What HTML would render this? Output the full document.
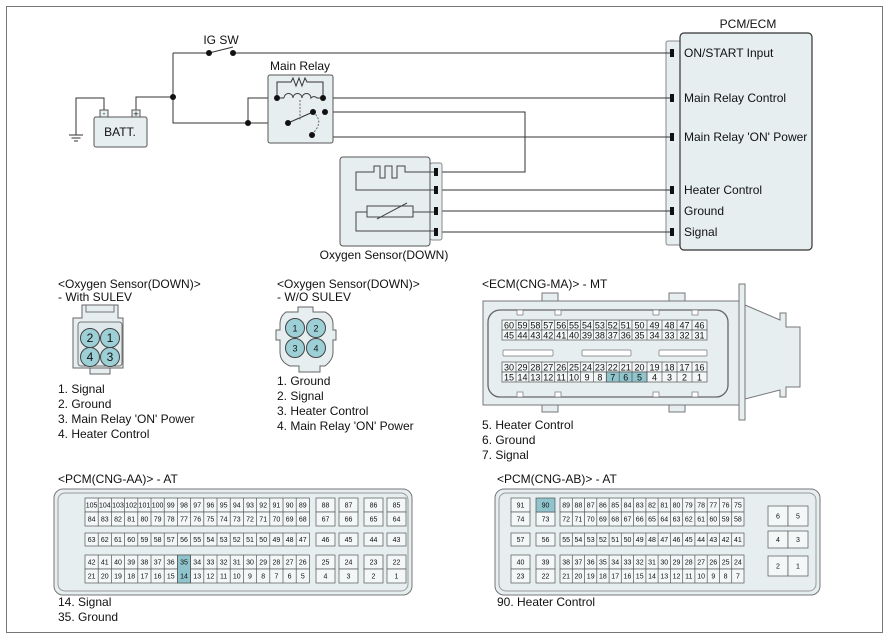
<!DOCTYPE html>
<html><head><meta charset="utf-8"><style>
html,body{margin:0;padding:0;background:#fff}
svg{display:block}
text{font-family:"Liberation Sans",sans-serif;fill:#111}
.l{font-size:12px}
.n{font-size:9px;text-anchor:middle}
.s{font-size:7px;text-anchor:middle}
.w{stroke:#333;stroke-width:1;fill:none}
.c{fill:#f3f7f8;stroke:#555;stroke-width:.7}
.h{fill:#8fc4cd;stroke:#555;stroke-width:.7}
.b{fill:#e6eef0;stroke:#555;stroke-width:1}
</style></head><body>
<svg width="888" height="640" viewBox="0 0 888 640" xmlns="http://www.w3.org/2000/svg">
<rect x="6.5" y="6.5" width="876" height="626" fill="#fff" stroke="#777"/>

<!-- PCM box -->
<text x="748" y="28" class="l" text-anchor="middle">PCM/ECM</text>
<rect x="666" y="41" width="16" height="204" rx="2" fill="#e6eef0" stroke="#888"/>
<rect x="680" y="33" width="132" height="217" rx="4" fill="#e6eef0" stroke="#333" stroke-width="1.2"/>
<g fill="#111">
<rect x="670" y="49" width="4" height="8"/><rect x="670" y="94" width="4" height="8"/><rect x="670" y="133" width="4" height="8"/>
<rect x="670" y="186" width="4" height="8"/><rect x="670" y="207" width="4" height="8"/><rect x="670" y="228" width="4" height="8"/>
</g>
<text x="684" y="57" class="l">ON/START Input</text>
<text x="684" y="102" class="l">Main Relay Control</text>
<text x="684" y="141" class="l">Main Relay 'ON' Power</text>
<text x="684" y="194" class="l">Heater Control</text>
<text x="684" y="215" class="l">Ground</text>
<text x="684" y="236" class="l">Signal</text>

<!-- wires -->
<path class="w" d="M233 53H670 M173 53V123H313 M209 53H173 M209 53L233 47 M136 110V97H173 M104 110V98H76V135 M248 123V98H277 M323 98H670 M325 112H525V172H442 M325 112V137H670 M442 190H670 M442 211H670 M442 232H670"/>
<path stroke="#333" d="M69 135H83 M71.5 138H80.5 M74 141H78"/>
<g fill="#111"><circle cx="209" cy="53" r="3"/><circle cx="233" cy="53" r="3"/><circle cx="173" cy="97" r="3"/><circle cx="248" cy="123" r="3"/></g>
<text x="221" y="44" class="l" text-anchor="middle">IG SW</text>

<!-- battery -->
<rect x="94" y="117" width="53" height="30" rx="2" class="b"/>
<rect x="100" y="110" width="8" height="7" fill="#e6eef0" stroke="#555"/>
<rect x="132" y="110" width="8" height="7" fill="#e6eef0" stroke="#555"/>
<text x="104" y="116" font-size="8" text-anchor="middle">-</text>
<text x="136" y="117" font-size="9" text-anchor="middle">+</text>
<text x="120" y="136" class="l" text-anchor="middle">BATT.</text>

<!-- main relay -->
<text x="300" y="70" class="l" text-anchor="middle">Main Relay</text>
<rect x="268" y="75" width="65" height="68" rx="2" class="b" stroke="#333"/>
<path class="w" d="M277 98V82H291L293 78L296 86L299 78L302 86L305 78L307 82H323V98 M277 98H284 M284 98a4.5 4.5 0 0 1 9 0 a4.5 4.5 0 0 1 9 0 a4.5 4.5 0 0 1 9 0 a4 4 0 0 1 6 0 H323 M288 123L313 112"/>
<path stroke="#666" stroke-dasharray="2,1.5" fill="none" d="M300 100V121 M313 112Q325 122 312 134"/>
<g fill="#111"><circle cx="277" cy="98" r="3"/><circle cx="323" cy="98" r="3"/><circle cx="288" cy="123" r="3"/><circle cx="313" cy="112" r="3"/><circle cx="325" cy="112" r="3"/><circle cx="312" cy="135" r="3"/></g>

<!-- oxygen sensor -->
<rect x="430" y="163" width="12" height="77" rx="2" fill="#e6eef0" stroke="#888"/>
<rect x="340" y="157" width="90" height="89" rx="3" class="b" stroke="#333"/>
<g fill="#111"><rect x="434" y="168" width="4" height="8"/><rect x="434" y="186" width="4" height="8"/><rect x="434" y="207" width="4" height="8"/><rect x="434" y="228" width="4" height="8"/></g>
<path stroke="#444" fill="none" d="M434 172H405V166H397V178H392V166H385V178H380V166H374V172H356V190H434 M434 212H413 M367 212H356V231H434"/>
<rect x="367" y="206" width="46" height="11" fill="none" stroke="#444"/>
<path stroke="#444" d="M377 219L407 203"/>
<text x="384" y="259" class="l" text-anchor="middle">Oxygen Sensor(DOWN)</text>

<!-- with SULEV -->
<text x="58" y="288" class="l">&lt;Oxygen Sensor(DOWN)&gt;</text>
<text x="58" y="301" class="l">- With SULEV</text>
<rect x="90" y="367" width="20" height="7" fill="#e6eef0" stroke="#666"/>
<path d="M82 305H118V318H123V368H73V318H82Z" fill="#e6eef0" stroke="#666"/>
<rect x="78" y="322" width="44" height="44" rx="3" fill="#dfe8ea" stroke="#777"/>
<path d="M86 305V312H114V305" fill="none" stroke="#777"/>
<g fill="#9dcfd6" stroke="#444"><circle cx="90" cy="338" r="9.5"/><circle cx="110" cy="338" r="9.5"/><circle cx="90" cy="357" r="9.5"/><circle cx="110" cy="357" r="9.5"/></g>
<text x="90" y="342" class="l" text-anchor="middle">2</text><text x="110" y="342" class="l" text-anchor="middle">1</text><text x="90" y="361" class="l" text-anchor="middle">4</text><text x="110" y="361" class="l" text-anchor="middle">3</text>
<text x="58" y="393" class="l">1. Signal</text>
<text x="58" y="408" class="l">2. Ground</text>
<text x="58" y="423" class="l">3. Main Relay 'ON' Power</text>
<text x="58" y="438" class="l">4. Heater Control</text>

<!-- W/O SULEV -->
<text x="277" y="288" class="l">&lt;Oxygen Sensor(DOWN)&gt;</text>
<text x="277" y="301" class="l">- W/O SULEV</text>
<path d="M298 307V312H286Q280 316 280 324V330H276V340H280V352Q280 362 290 366H299V372H320V366H325Q333 360 333 352V340H336V330H333V324Q333 316 325 312H313V307Z" fill="#e6eef0" stroke="#666"/>
<g fill="#9dcfd6" stroke="#444"><circle cx="295" cy="328" r="9.5"/><circle cx="316" cy="328" r="9.5"/><circle cx="295" cy="348" r="9.5"/><circle cx="316" cy="348" r="9.5"/></g>
<text x="295" y="331.5" class="n">1</text><text x="316" y="331.5" class="n">2</text><text x="295" y="351.5" class="n">3</text><text x="316" y="351.5" class="n">4</text>
<text x="277" y="385" class="l">1. Ground</text>
<text x="277" y="400" class="l">2. Signal</text>
<text x="277" y="415" class="l">3. Heater Control</text>
<text x="277" y="430" class="l">4. Main Relay 'ON' Power</text>

<!-- ECM CNG-MA -->
<text x="482" y="288" class="l">&lt;ECM(CNG-MA)&gt; - MT</text>
<path d="M745 305L780 320V313H786V327H800V387H786V397H780V390L745 399Z" fill="#e6eef0" stroke="#777"/>
<rect x="739" y="284" width="6" height="136" fill="#e6eef0" stroke="#777"/>
<rect x="542" y="293" width="16" height="12" fill="#e6eef0" stroke="#777"/><rect x="669" y="293" width="16" height="12" fill="#e6eef0" stroke="#777"/>
<rect x="542" y="400" width="16" height="12" fill="#e6eef0" stroke="#777"/><rect x="669" y="400" width="16" height="12" fill="#e6eef0" stroke="#777"/>
<rect x="483" y="301" width="256" height="104" fill="#e6eef0" stroke="#777"/>
<rect x="488" y="310" width="240" height="87" rx="12" fill="#e6eef0" stroke="#666" stroke-width="1.3"/>
<g fill="#fff" stroke="#777" stroke-width=".7"><rect x="517" y="310" width="6" height="5"/><rect x="555" y="310" width="6" height="5"/><rect x="653" y="310" width="6" height="5"/><rect x="692" y="310" width="6" height="5"/>
<rect x="517" y="392" width="6" height="5"/><rect x="555" y="392" width="6" height="5"/><rect x="653" y="392" width="6" height="5"/><rect x="692" y="392" width="6" height="5"/>
<rect x="503" y="350" width="50" height="6" rx="1"/><rect x="582" y="350" width="49" height="6" rx="1"/><rect x="659" y="350" width="48" height="6" rx="1"/></g>
<g class="c">
<rect x="502" y="320" width="205" height="10"/><rect x="502" y="330" width="205" height="10"/><rect x="502" y="362" width="205" height="10"/><rect x="502" y="372" width="205" height="10"/>
</g>
<rect x="606.3" y="372" width="40.7" height="10" class="h"/>
<path stroke="#555" stroke-width=".7" d="M516 320V340M528.9 320V340M541.8 320V340M554.7 320V340M567.6 320V340M580.5 320V340M593.4 320V340M606.3 320V340M619.2 320V340M632 320V340M647 320V340M662 320V340M677 320V340M692 320V340 M516 362V382M528.9 362V382M541.8 362V382M554.7 362V382M567.6 362V382M580.5 362V382M593.4 362V382M606.3 362V382M619.2 362V382M632 362V382M647 362V382M662 362V382M677 362V382M692 362V382"/>
<g class="n">
<text x="509" y="328.5">60</text><text x="522.5" y="328.5">59</text><text x="535.4" y="328.5">58</text><text x="548.3" y="328.5">57</text><text x="561.2" y="328.5">56</text><text x="574" y="328.5">55</text><text x="587" y="328.5">54</text><text x="599.9" y="328.5">53</text><text x="612.8" y="328.5">52</text><text x="625.7" y="328.5">51</text><text x="639.5" y="328.5">50</text><text x="654.5" y="328.5">49</text><text x="669.5" y="328.5">48</text><text x="684.5" y="328.5">47</text><text x="699.5" y="328.5">46</text>
<text x="509" y="338.5">45</text><text x="522.5" y="338.5">44</text><text x="535.4" y="338.5">43</text><text x="548.3" y="338.5">42</text><text x="561.2" y="338.5">41</text><text x="574" y="338.5">40</text><text x="587" y="338.5">39</text><text x="599.9" y="338.5">38</text><text x="612.8" y="338.5">37</text><text x="625.7" y="338.5">36</text><text x="639.5" y="338.5">35</text><text x="654.5" y="338.5">34</text><text x="669.5" y="338.5">33</text><text x="684.5" y="338.5">32</text><text x="699.5" y="338.5">31</text>
<text x="509" y="370.5">30</text><text x="522.5" y="370.5">29</text><text x="535.4" y="370.5">28</text><text x="548.3" y="370.5">27</text><text x="561.2" y="370.5">26</text><text x="574" y="370.5">25</text><text x="587" y="370.5">24</text><text x="599.9" y="370.5">23</text><text x="612.8" y="370.5">22</text><text x="625.7" y="370.5">21</text><text x="639.5" y="370.5">20</text><text x="654.5" y="370.5">19</text><text x="669.5" y="370.5">18</text><text x="684.5" y="370.5">17</text><text x="699.5" y="370.5">16</text>
<text x="509" y="380.5">15</text><text x="522.5" y="380.5">14</text><text x="535.4" y="380.5">13</text><text x="548.3" y="380.5">12</text><text x="561.2" y="380.5">11</text><text x="574" y="380.5">10</text><text x="587" y="380.5">9</text><text x="599.9" y="380.5">8</text><text x="612.8" y="380.5">7</text><text x="625.7" y="380.5">6</text><text x="639.5" y="380.5">5</text><text x="654.5" y="380.5">4</text><text x="669.5" y="380.5">3</text><text x="684.5" y="380.5">2</text><text x="699.5" y="380.5">1</text>
</g>
<text x="482" y="429" class="l">5. Heater Control</text>
<text x="482" y="444" class="l">6. Ground</text>
<text x="482" y="459" class="l">7. Signal</text>

<!-- PCM CNG-AA -->
<text x="58" y="483" class="l">&lt;PCM(CNG-AA)&gt; - AT</text>
<rect x="54" y="489" width="358" height="106" rx="9" fill="#e6eef0" stroke="#777"/>
<rect x="58" y="493" width="350" height="98" rx="7" fill="none" stroke="#999"/>
<g class="c">
<rect x="85" y="498" width="224.4" height="14"/><rect x="85" y="512" width="224.4" height="14"/>
<rect x="85" y="533" width="224.4" height="13"/>
<rect x="85" y="555" width="224.4" height="14"/><rect x="85" y="569" width="224.4" height="14"/>
<rect x="316" y="498" width="19" height="14"/><rect x="339" y="498" width="19" height="14"/><rect x="364" y="498" width="19" height="14"/><rect x="387" y="498" width="19" height="14"/>
<rect x="316" y="512" width="19" height="14"/><rect x="339" y="512" width="19" height="14"/><rect x="364" y="512" width="19" height="14"/><rect x="387" y="512" width="19" height="14"/>
<rect x="316" y="533" width="19" height="13"/><rect x="339" y="533" width="19" height="13"/><rect x="364" y="533" width="19" height="13"/><rect x="387" y="533" width="19" height="13"/>
<rect x="316" y="555" width="19" height="14"/><rect x="339" y="555" width="19" height="14"/><rect x="364" y="555" width="19" height="14"/><rect x="387" y="555" width="19" height="14"/>
<rect x="316" y="569" width="19" height="14"/><rect x="339" y="569" width="19" height="14"/><rect x="364" y="569" width="19" height="14"/><rect x="387" y="569" width="19" height="14"/>
</g>
<rect x="177.4" y="555" width="13.2" height="28" class="h"/>
<path stroke="#555" stroke-width=".7" d="M98.2 498V526M111.4 498V526M124.6 498V526M137.8 498V526M151 498V526M164.2 498V526M177.4 498V526M190.6 498V526M203.8 498V526M217 498V526M230.2 498V526M243.4 498V526M256.6 498V526M269.8 498V526M283 498V526M296.2 498V526
M98.2 533V546M111.4 533V546M124.6 533V546M137.8 533V546M151 533V546M164.2 533V546M177.4 533V546M190.6 533V546M203.8 533V546M217 533V546M230.2 533V546M243.4 533V546M256.6 533V546M269.8 533V546M283 533V546M296.2 533V546
M98.2 555V583M111.4 555V583M124.6 555V583M137.8 555V583M151 555V583M164.2 555V583M177.4 555V583M190.6 555V583M203.8 555V583M217 555V583M230.2 555V583M243.4 555V583M256.6 555V583M269.8 555V583M283 555V583M296.2 555V583"/>
<g class="s">
<text x="91.6" y="507.5">105</text><text x="104.8" y="507.5">104</text><text x="118" y="507.5">103</text><text x="131.2" y="507.5">102</text><text x="144.4" y="507.5">101</text><text x="157.6" y="507.5">100</text><text x="170.8" y="507.5">99</text><text x="184" y="507.5">98</text><text x="197.2" y="507.5">97</text><text x="210.4" y="507.5">96</text><text x="223.6" y="507.5">95</text><text x="236.8" y="507.5">94</text><text x="250" y="507.5">93</text><text x="263.2" y="507.5">92</text><text x="276.4" y="507.5">91</text><text x="289.6" y="507.5">90</text><text x="302.8" y="507.5">89</text>
<text x="325.5" y="507.5">88</text><text x="348.5" y="507.5">87</text><text x="373.5" y="507.5">86</text><text x="396.5" y="507.5">85</text>
<text x="91.6" y="521.5">84</text><text x="104.8" y="521.5">83</text><text x="118" y="521.5">82</text><text x="131.2" y="521.5">81</text><text x="144.4" y="521.5">80</text><text x="157.6" y="521.5">79</text><text x="170.8" y="521.5">78</text><text x="184" y="521.5">77</text><text x="197.2" y="521.5">76</text><text x="210.4" y="521.5">75</text><text x="223.6" y="521.5">74</text><text x="236.8" y="521.5">73</text><text x="250" y="521.5">72</text><text x="263.2" y="521.5">71</text><text x="276.4" y="521.5">70</text><text x="289.6" y="521.5">69</text><text x="302.8" y="521.5">68</text>
<text x="325.5" y="521.5">67</text><text x="348.5" y="521.5">66</text><text x="373.5" y="521.5">65</text><text x="396.5" y="521.5">64</text>
<text x="91.6" y="542">63</text><text x="104.8" y="542">62</text><text x="118" y="542">61</text><text x="131.2" y="542">60</text><text x="144.4" y="542">59</text><text x="157.6" y="542">58</text><text x="170.8" y="542">57</text><text x="184" y="542">56</text><text x="197.2" y="542">55</text><text x="210.4" y="542">54</text><text x="223.6" y="542">53</text><text x="236.8" y="542">52</text><text x="250" y="542">51</text><text x="263.2" y="542">50</text><text x="276.4" y="542">49</text><text x="289.6" y="542">48</text><text x="302.8" y="542">47</text>
<text x="325.5" y="542">46</text><text x="348.5" y="542">45</text><text x="373.5" y="542">44</text><text x="396.5" y="542">43</text>
<text x="91.6" y="564.5">42</text><text x="104.8" y="564.5">41</text><text x="118" y="564.5">40</text><text x="131.2" y="564.5">39</text><text x="144.4" y="564.5">38</text><text x="157.6" y="564.5">37</text><text x="170.8" y="564.5">36</text><text x="184" y="564.5">35</text><text x="197.2" y="564.5">34</text><text x="210.4" y="564.5">33</text><text x="223.6" y="564.5">32</text><text x="236.8" y="564.5">31</text><text x="250" y="564.5">30</text><text x="263.2" y="564.5">29</text><text x="276.4" y="564.5">28</text><text x="289.6" y="564.5">27</text><text x="302.8" y="564.5">26</text>
<text x="325.5" y="564.5">25</text><text x="348.5" y="564.5">24</text><text x="373.5" y="564.5">23</text><text x="396.5" y="564.5">22</text>
<text x="91.6" y="578.5">21</text><text x="104.8" y="578.5">20</text><text x="118" y="578.5">19</text><text x="131.2" y="578.5">18</text><text x="144.4" y="578.5">17</text><text x="157.6" y="578.5">16</text><text x="170.8" y="578.5">15</text><text x="184" y="578.5">14</text><text x="197.2" y="578.5">13</text><text x="210.4" y="578.5">12</text><text x="223.6" y="578.5">11</text><text x="236.8" y="578.5">10</text><text x="250" y="578.5">9</text><text x="263.2" y="578.5">8</text><text x="276.4" y="578.5">7</text><text x="289.6" y="578.5">6</text><text x="302.8" y="578.5">5</text>
<text x="325.5" y="578.5">4</text><text x="348.5" y="578.5">3</text><text x="373.5" y="578.5">2</text><text x="396.5" y="578.5">1</text>
</g>
<text x="58" y="606" class="l">14. Signal</text>
<text x="58" y="621" class="l">35. Ground</text>

<!-- PCM CNG-AB -->
<text x="497" y="483" class="l">&lt;PCM(CNG-AB)&gt; - AT</text>
<rect x="495" y="489" width="325" height="106" rx="9" fill="#e6eef0" stroke="#777"/>
<rect x="499" y="493" width="317" height="98" rx="7" fill="none" stroke="#999"/>
<g class="c">
<rect x="511" y="498" width="19" height="14"/><rect x="511" y="512" width="19" height="14"/><rect x="511" y="533" width="19" height="13"/><rect x="511" y="555" width="19" height="14"/><rect x="511" y="569" width="19" height="14"/>
<rect x="536" y="512" width="19" height="14"/><rect x="536" y="533" width="19" height="13"/><rect x="536" y="555" width="19" height="14"/><rect x="536" y="569" width="19" height="14"/>
<rect x="560" y="498" width="184" height="14"/><rect x="560" y="512" width="184" height="14"/><rect x="560" y="533" width="184" height="13"/><rect x="560" y="555" width="184" height="14"/><rect x="560" y="569" width="184" height="14"/>
<rect x="768" y="506" width="20" height="20"/><rect x="788" y="506" width="20" height="20"/><rect x="768" y="531" width="20" height="17"/><rect x="788" y="531" width="20" height="17"/><rect x="768" y="556" width="20" height="20"/><rect x="788" y="556" width="20" height="20"/>
</g>
<rect x="536" y="498" width="19" height="14" class="h"/>
<path stroke="#555" stroke-width=".7" d="M572.3 498V526M584.5 498V526M596.8 498V526M609.1 498V526M621.3 498V526M633.6 498V526M645.9 498V526M658.1 498V526M670.4 498V526M682.7 498V526M694.9 498V526M707.2 498V526M719.5 498V526M731.7 498V526
M572.3 533V546M584.5 533V546M596.8 533V546M609.1 533V546M621.3 533V546M633.6 533V546M645.9 533V546M658.1 533V546M670.4 533V546M682.7 533V546M694.9 533V546M707.2 533V546M719.5 533V546M731.7 533V546
M572.3 555V583M584.5 555V583M596.8 555V583M609.1 555V583M621.3 555V583M633.6 555V583M645.9 555V583M658.1 555V583M670.4 555V583M682.7 555V583M694.9 555V583M707.2 555V583M719.5 555V583M731.7 555V583"/>
<g class="s">
<text x="520.5" y="507.5">91</text><text x="545.5" y="507.5">90</text>
<text x="566.1" y="507.5">89</text><text x="578.4" y="507.5">88</text><text x="590.7" y="507.5">87</text><text x="602.9" y="507.5">86</text><text x="615.2" y="507.5">85</text><text x="627.5" y="507.5">84</text><text x="639.7" y="507.5">83</text><text x="652" y="507.5">82</text><text x="664.3" y="507.5">81</text><text x="676.5" y="507.5">80</text><text x="688.8" y="507.5">79</text><text x="701.1" y="507.5">78</text><text x="713.3" y="507.5">77</text><text x="725.6" y="507.5">76</text><text x="737.9" y="507.5">75</text>
<text x="520.5" y="521.5">74</text><text x="545.5" y="521.5">73</text>
<text x="566.1" y="521.5">72</text><text x="578.4" y="521.5">71</text><text x="590.7" y="521.5">70</text><text x="602.9" y="521.5">69</text><text x="615.2" y="521.5">68</text><text x="627.5" y="521.5">67</text><text x="639.7" y="521.5">66</text><text x="652" y="521.5">65</text><text x="664.3" y="521.5">64</text><text x="676.5" y="521.5">63</text><text x="688.8" y="521.5">62</text><text x="701.1" y="521.5">61</text><text x="713.3" y="521.5">60</text><text x="725.6" y="521.5">59</text><text x="737.9" y="521.5">58</text>
<text x="520.5" y="542">57</text><text x="545.5" y="542">56</text>
<text x="566.1" y="542">55</text><text x="578.4" y="542">54</text><text x="590.7" y="542">53</text><text x="602.9" y="542">52</text><text x="615.2" y="542">51</text><text x="627.5" y="542">50</text><text x="639.7" y="542">49</text><text x="652" y="542">48</text><text x="664.3" y="542">47</text><text x="676.5" y="542">46</text><text x="688.8" y="542">45</text><text x="701.1" y="542">44</text><text x="713.3" y="542">43</text><text x="725.6" y="542">42</text><text x="737.9" y="542">41</text>
<text x="520.5" y="564.5">40</text><text x="545.5" y="564.5">39</text>
<text x="566.1" y="564.5">38</text><text x="578.4" y="564.5">37</text><text x="590.7" y="564.5">36</text><text x="602.9" y="564.5">35</text><text x="615.2" y="564.5">34</text><text x="627.5" y="564.5">33</text><text x="639.7" y="564.5">32</text><text x="652" y="564.5">31</text><text x="664.3" y="564.5">30</text><text x="676.5" y="564.5">29</text><text x="688.8" y="564.5">28</text><text x="701.1" y="564.5">27</text><text x="713.3" y="564.5">26</text><text x="725.6" y="564.5">25</text><text x="737.9" y="564.5">24</text>
<text x="520.5" y="578.5">23</text><text x="545.5" y="578.5">22</text>
<text x="566.1" y="578.5">21</text><text x="578.4" y="578.5">20</text><text x="590.7" y="578.5">19</text><text x="602.9" y="578.5">18</text><text x="615.2" y="578.5">17</text><text x="627.5" y="578.5">16</text><text x="639.7" y="578.5">15</text><text x="652" y="578.5">14</text><text x="664.3" y="578.5">13</text><text x="676.5" y="578.5">12</text><text x="688.8" y="578.5">11</text><text x="701.1" y="578.5">10</text><text x="713.3" y="578.5">9</text><text x="725.6" y="578.5">8</text><text x="737.9" y="578.5">7</text>
<text x="778" y="518.5">6</text><text x="798" y="518.5">5</text><text x="778" y="542">4</text><text x="798" y="542">3</text><text x="778" y="568.5">2</text><text x="798" y="568.5">1</text>
</g>
<text x="497" y="606" class="l">90. Heater Control</text>
</svg>
</body></html>
